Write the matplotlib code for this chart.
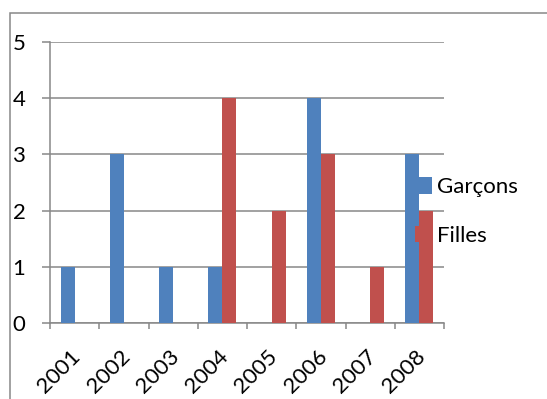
import numpy as np
import matplotlib.pyplot as plt
from matplotlib.patches import Rectangle
from matplotlib.transforms import ScaledTranslation

years = ['2001', '2002', '2003', '2004', '2005', '2006', '2007', '2008']
garcons = [1, 3, 1, 1, 0, 4, 0, 3]
filles = [0, 0, 0, 4, 2, 3, 1, 2]

blue = '#4F81BD'
red = '#C0504D'
grey = '#888888'

plt.rcParams['font.family'] = ['Lato', 'DejaVu Sans']
fs = 16

W, H = 547, 399
fig = plt.figure(figsize=(W / 100, H / 100), dpi=100)
ax = fig.add_axes([50 / W, 1 - 323 / H, (444 - 50) / W, (323 - 42) / H])

# chart area border (runs off the right and bottom edges)
fig.patches.append(Rectangle((10 / W, -0.2), 1.2, 1.2 - 13 / H,
                             transform=fig.transFigure, fill=False,
                             edgecolor=grey, linewidth=1.1))

x = np.arange(len(years))
bw = 1 / 3.5
ax.bar(x - bw / 2, garcons, bw, color=blue, label='Garçons', zorder=3)
ax.bar(x + bw / 2, filles, bw, color=red, label='Filles', zorder=3)

ax.set_xlim(-0.5, len(years) - 0.5)
ax.set_ylim(0, 5)
ax.set_yticks(range(6))
ax.yaxis.grid(True, color=grey, linewidth=1.1, zorder=0)
for s in ['top', 'right']:
    ax.spines[s].set_visible(False)
for s in ['left', 'bottom']:
    ax.spines[s].set_color(grey)
    ax.spines[s].set_linewidth(1.1)

ax.tick_params(axis='y', length=6, color=grey, width=1.1, pad=21, labelsize=fs)
for lbl in ax.get_yticklabels():
    lbl.set_horizontalalignment('left')

ax.set_xticks(np.arange(len(years) + 1) - 0.5)
ax.set_xticklabels([])
ax.tick_params(axis='x', which='major', length=4, color=grey, width=1.1)
ax.set_xticks(x, minor=True)
ax.set_xticklabels(years, minor=True, rotation=45, ha='right', va='center',
                   rotation_mode='anchor', fontsize=fs)
ax.tick_params(axis='x', which='minor', length=0, pad=22)
shift = ScaledTranslation(3 / 100, 0, fig.dpi_scale_trans)
for lbl in ax.get_xticklabels(minor=True):
    lbl.set_transform(lbl.get_transform() + shift)

ax.legend(loc='upper left', bbox_to_anchor=(404 / W, 1 - 166 / H),
          bbox_transform=fig.transFigure, frameon=False, fontsize=fs,
          handlelength=0.75, handleheight=0.75, handletextpad=0.25,
          labelspacing=1.3, borderpad=0)

fig.savefig('out.png', dpi=100)
